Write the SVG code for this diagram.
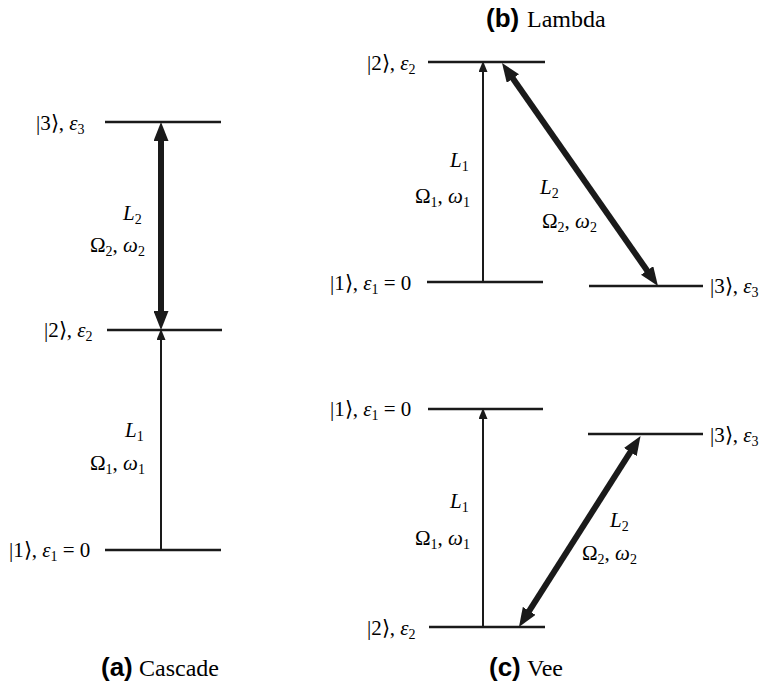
<svg xmlns="http://www.w3.org/2000/svg" width="771" height="689" viewBox="0 0 771 689">
<defs>
<marker id="ah" markerUnits="userSpaceOnUse" viewBox="0 0 11 9" refX="5" refY="4.5" markerWidth="11" markerHeight="9" orient="auto-start-reverse"><path d="M0,0L11,4.5L0,9z" fill="#1a1a1a"/></marker>
<marker id="AH" markerUnits="userSpaceOnUse" viewBox="0 0 19 15" refX="7" refY="7.5" markerWidth="19" markerHeight="15" orient="auto-start-reverse"><path d="M0,0L19,7.5L0,15z" fill="#1a1a1a"/></marker>
</defs>
<rect width="771" height="689" fill="#fff"/>

<g id="a-level3">
<line stroke="#1a1a1a" stroke-width="2.6" x1="105" y1="122" x2="221" y2="122"/>
<text font-family="Liberation Serif" font-size="21" x="36" y="130">|3⟩, <tspan font-style="italic">ε</tspan><tspan font-size="14" dy="4">3</tspan></text>
</g>
<g id="a-level2">
<line stroke="#1a1a1a" stroke-width="2.6" x1="107" y1="330" x2="222" y2="330"/>
<text font-family="Liberation Serif" font-size="21" x="44" y="337">|2⟩, <tspan font-style="italic">ε</tspan><tspan font-size="14" dy="4">2</tspan></text>
</g>
<g id="a-level1">
<line stroke="#1a1a1a" stroke-width="2.6" x1="105" y1="550" x2="221" y2="550"/>
<text font-family="Liberation Serif" font-size="21" x="9" y="557">|1⟩, <tspan font-style="italic">ε</tspan><tspan font-size="14" dy="4">1</tspan><tspan dy="-4"> = 0</tspan></text>
</g>
<g id="a-labels">
<text font-family="Liberation Serif" font-size="21" x="123" y="220"><tspan font-style="italic">L</tspan><tspan font-size="14" dy="4">2</tspan></text>
<text font-family="Liberation Serif" font-size="21" x="90" y="252">Ω<tspan font-size="14" dy="4">2</tspan><tspan dy="-4">, </tspan><tspan font-style="italic">ω</tspan><tspan font-size="14" dy="4">2</tspan></text>
<text font-family="Liberation Serif" font-size="21" x="125" y="437"><tspan font-style="italic">L</tspan><tspan font-size="14" dy="4">1</tspan></text>
<text font-family="Liberation Serif" font-size="21" x="90" y="470">Ω<tspan font-size="14" dy="4">1</tspan><tspan dy="-4">, </tspan><tspan font-style="italic">ω</tspan><tspan font-size="14" dy="4">1</tspan></text>
</g>
<g id="a-title">
<text font-family="Liberation Sans" font-weight="bold" font-size="26" x="101" y="676">(a)</text>
<text font-family="Liberation Serif" font-size="24" x="139" y="676">Cascade</text>
</g>

<g id="b-title">
<text font-family="Liberation Sans" font-weight="bold" font-size="26" x="486" y="27">(b)</text>
<text font-family="Liberation Serif" font-size="24" x="527" y="27">Lambda</text>
</g>
<g id="b-level2">
<line stroke="#1a1a1a" stroke-width="2.6" x1="428" y1="62" x2="545" y2="62"/>
<text font-family="Liberation Serif" font-size="21" x="367" y="70">|2⟩, <tspan font-style="italic">ε</tspan><tspan font-size="14" dy="4">2</tspan></text>
</g>
<g id="b-level1">
<line stroke="#1a1a1a" stroke-width="2.6" x1="427" y1="282" x2="543" y2="282"/>
<text font-family="Liberation Serif" font-size="21" x="330" y="290">|1⟩, <tspan font-style="italic">ε</tspan><tspan font-size="14" dy="4">1</tspan><tspan dy="-4"> = 0</tspan></text>
</g>
<g id="b-level3">
<line stroke="#1a1a1a" stroke-width="2.6" x1="589" y1="286" x2="703" y2="286"/>
<text font-family="Liberation Serif" font-size="21" x="710" y="293">|3⟩, <tspan font-style="italic">ε</tspan><tspan font-size="14" dy="4">3</tspan></text>
</g>
<g id="b-labels">
<text font-family="Liberation Serif" font-size="21" x="450" y="167"><tspan font-style="italic">L</tspan><tspan font-size="14" dy="4">1</tspan></text>
<text font-family="Liberation Serif" font-size="21" x="415" y="203">Ω<tspan font-size="14" dy="4">1</tspan><tspan dy="-4">, </tspan><tspan font-style="italic">ω</tspan><tspan font-size="14" dy="4">1</tspan></text>
<text font-family="Liberation Serif" font-size="21" x="540" y="194"><tspan font-style="italic">L</tspan><tspan font-size="14" dy="4">2</tspan></text>
<text font-family="Liberation Serif" font-size="21" x="542" y="228">Ω<tspan font-size="14" dy="4">2</tspan><tspan dy="-4">, </tspan><tspan font-style="italic">ω</tspan><tspan font-size="14" dy="4">2</tspan></text>
</g>

<g id="c-level1">
<line stroke="#1a1a1a" stroke-width="2.6" x1="428" y1="409" x2="543" y2="409"/>
<text font-family="Liberation Serif" font-size="21" x="330" y="416">|1⟩, <tspan font-style="italic">ε</tspan><tspan font-size="14" dy="4">1</tspan><tspan dy="-4"> = 0</tspan></text>
</g>
<g id="c-level3">
<line stroke="#1a1a1a" stroke-width="2.6" x1="588" y1="434" x2="703" y2="434"/>
<text font-family="Liberation Serif" font-size="21" x="710" y="442">|3⟩, <tspan font-style="italic">ε</tspan><tspan font-size="14" dy="4">3</tspan></text>
</g>
<g id="c-level2">
<line stroke="#1a1a1a" stroke-width="2.6" x1="429" y1="627" x2="545" y2="627"/>
<text font-family="Liberation Serif" font-size="21" x="367" y="635">|2⟩, <tspan font-style="italic">ε</tspan><tspan font-size="14" dy="4">2</tspan></text>
</g>
<g id="c-labels">
<text font-family="Liberation Serif" font-size="21" x="450" y="508"><tspan font-style="italic">L</tspan><tspan font-size="14" dy="4">1</tspan></text>
<text font-family="Liberation Serif" font-size="21" x="415" y="545">Ω<tspan font-size="14" dy="4">1</tspan><tspan dy="-4">, </tspan><tspan font-style="italic">ω</tspan><tspan font-size="14" dy="4">1</tspan></text>
<text font-family="Liberation Serif" font-size="21" x="610" y="527"><tspan font-style="italic">L</tspan><tspan font-size="14" dy="4">2</tspan></text>
<text font-family="Liberation Serif" font-size="21" x="582" y="560">Ω<tspan font-size="14" dy="4">2</tspan><tspan dy="-4">, </tspan><tspan font-style="italic">ω</tspan><tspan font-size="14" dy="4">2</tspan></text>
</g>
<g id="c-title">
<text font-family="Liberation Sans" font-weight="bold" font-size="26" x="489" y="676">(c)</text>
<text font-family="Liberation Serif" font-size="24" x="527" y="676">Vee</text>
</g>

<g id="connectors" stroke="#1a1a1a" fill="none">
<line stroke-width="2" marker-end="url(#ah)" x1="161" y1="550" x2="161" y2="335"/>
<line stroke-width="6" marker-start="url(#AH)" marker-end="url(#AH)" x1="161" y1="134" x2="161" y2="318"/>
<line stroke-width="2" marker-end="url(#ah)" x1="483" y1="282" x2="483" y2="67"/>
<line stroke-width="6" marker-start="url(#AH)" marker-end="url(#AH)" x1="508.9" y1="72.8" x2="651.1" y2="276.2"/>
<line stroke-width="2" marker-end="url(#ah)" x1="483" y1="627" x2="483" y2="414"/>
<line stroke-width="6" marker-start="url(#AH)" marker-end="url(#AH)" x1="525.4" y1="616.8" x2="634.1" y2="446.2"/>
</g>
</svg>
